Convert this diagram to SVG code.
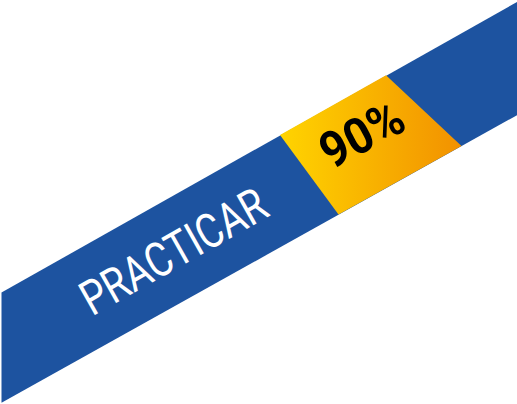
<svg xmlns="http://www.w3.org/2000/svg" width="517" height="404" viewBox="0 0 517 404">
  <defs>
    <linearGradient id="gold" gradientUnits="userSpaceOnUse" x1="280" y1="0" x2="462" y2="0">
      <stop offset="0" stop-color="#FFD400"/>
      <stop offset="1" stop-color="#F29100"/>
    </linearGradient>
    <style>
      .band { fill: #1D53A0; }
      .label { font-family: Roboto, "Liberation Sans", sans-serif; fill: #FFFFFF; font-size: 48px; }
      .pct { font-family: Roboto, "Liberation Sans", sans-serif; fill: #000000; font-size: 50px; font-weight: bold; }
    </style>
  </defs>
  <g id="ribbon">
    <polygon class="band" points="1.5,292.5 517,2 517,115.2 1.5,402.7"/>
  </g>
  <g id="badge">
    <polygon fill="url(#gold)" points="280,134.9 386,75.3 461.5,146.1 338.5,214.5"/>
    <text class="pct" transform="translate(331,170) rotate(-28)" x="0" y="0" textLength="88" lengthAdjust="spacingAndGlyphs">90%</text>
  </g>
  <g id="title">
    <text class="label" transform="translate(92,316.5) rotate(-29.5)" x="0" y="0" textLength="206" lengthAdjust="spacingAndGlyphs">PRACTICAR</text>
  </g>
  <g id="connectors"/>
</svg>
